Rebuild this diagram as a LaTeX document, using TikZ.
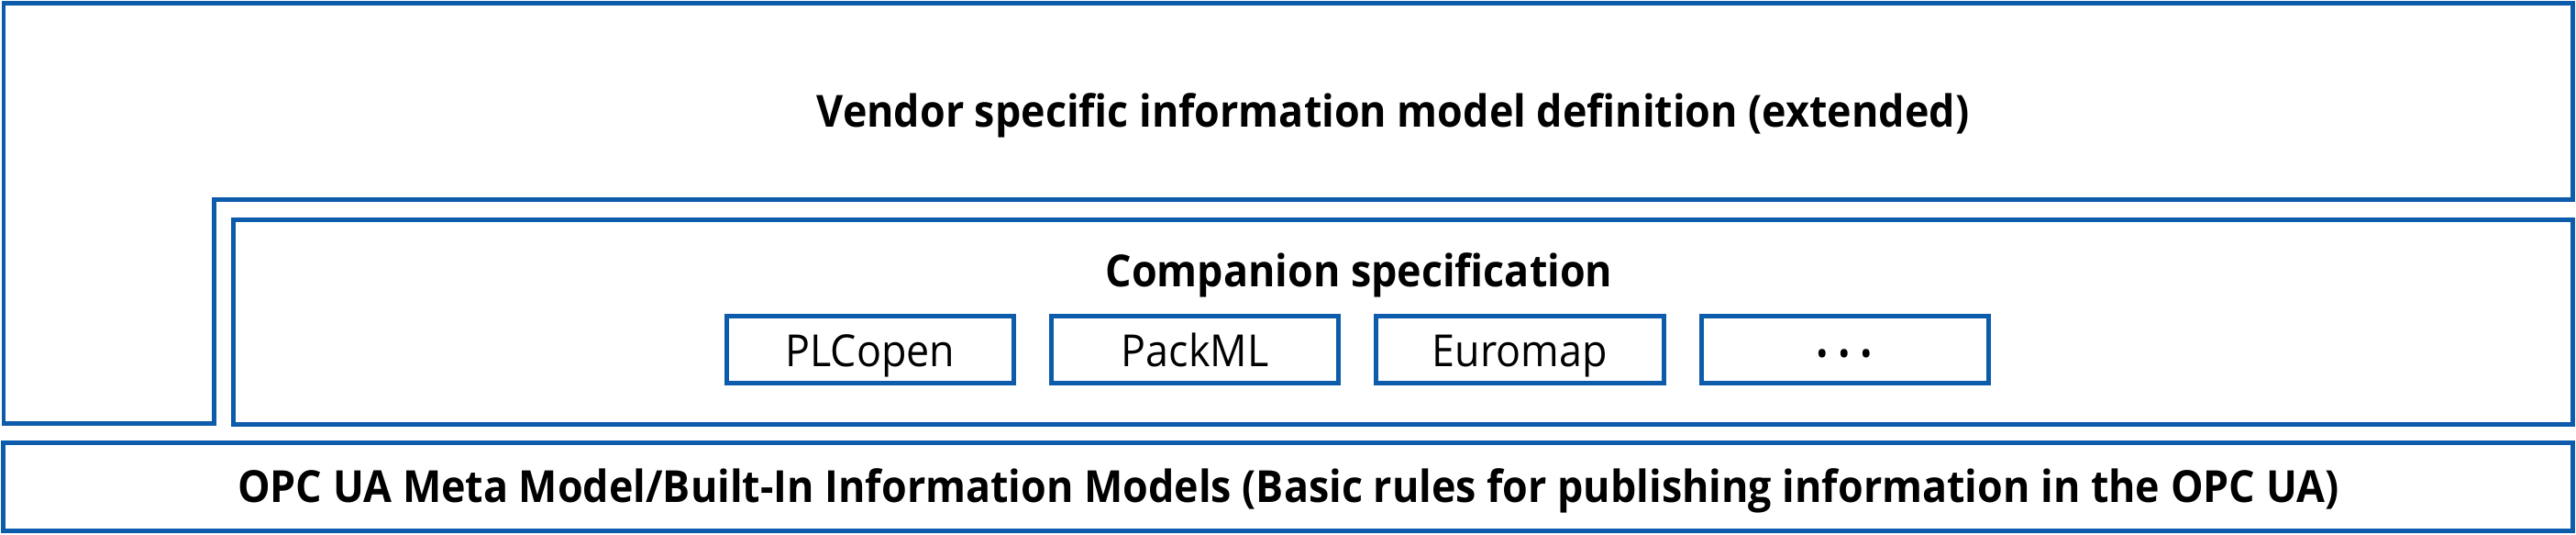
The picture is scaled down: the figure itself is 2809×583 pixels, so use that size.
\documentclass[tikz,border=0pt]{standalone}
\usepackage{fontspec}
\setmainfont{Open Sans}[FakeStretch=0.93]
\usetikzlibrary{positioning}
\definecolor{opcblue}{RGB}{13,91,171}
\tikzset{
 layer/.style={draw=opcblue, line width=1.42pt, inner sep=0pt, outer sep=0pt},
 part/.style={layer, minimum width=3.13cm, minimum height=0.72cm, text height=0.36cm, text depth=0pt},
 heading/.style={font=\fontsize{13.7}{16}\selectfont\bfseries, anchor=base},
}
\begin{document}
\begin{tikzpicture}[x=0.01cm, y=-0.01cm, font=\fontsize{13.7}{16}\selectfont]
\useasboundingbox (0,0) rectangle (2809,583);
% vendor layer, L shaped
\draw[layer, line join=miter] (4,4) -- (2805,4) -- (2805,218) -- (233,218) -- (233,462) -- (4,462) -- cycle;
\node[heading] (vendor) at (1519,139) {Vendor specific information model definition (extended)};

% companion layer
\node[layer, minimum width=25.5cm, minimum height=2.22cm] (comp) at (1530,351) {};
\node[heading] (comptitle) at (1482,313) {Companion specification};
\node[part] (plc) at (949,381) {PLCopen};
\node[part, right=0.41cm of plc] (packml) {PackML};
\node[part, right=0.41cm of packml] (euromap) {Euromap};
\node[part, right=0.41cm of euromap] (more) {\fontsize{11}{13}\selectfont •\hspace{3pt}•\hspace{3pt}•};

% base layer
\node[layer, minimum width=28.01cm, minimum height=0.95cm] (opcbase) at (1404.5,530.5) {};
\node[heading] (basetitle) at (1405,548) {OPC UA Meta Model/Built-In Information Models (Basic rules for publishing information in the OPC UA)};
\end{tikzpicture}
\end{document}
